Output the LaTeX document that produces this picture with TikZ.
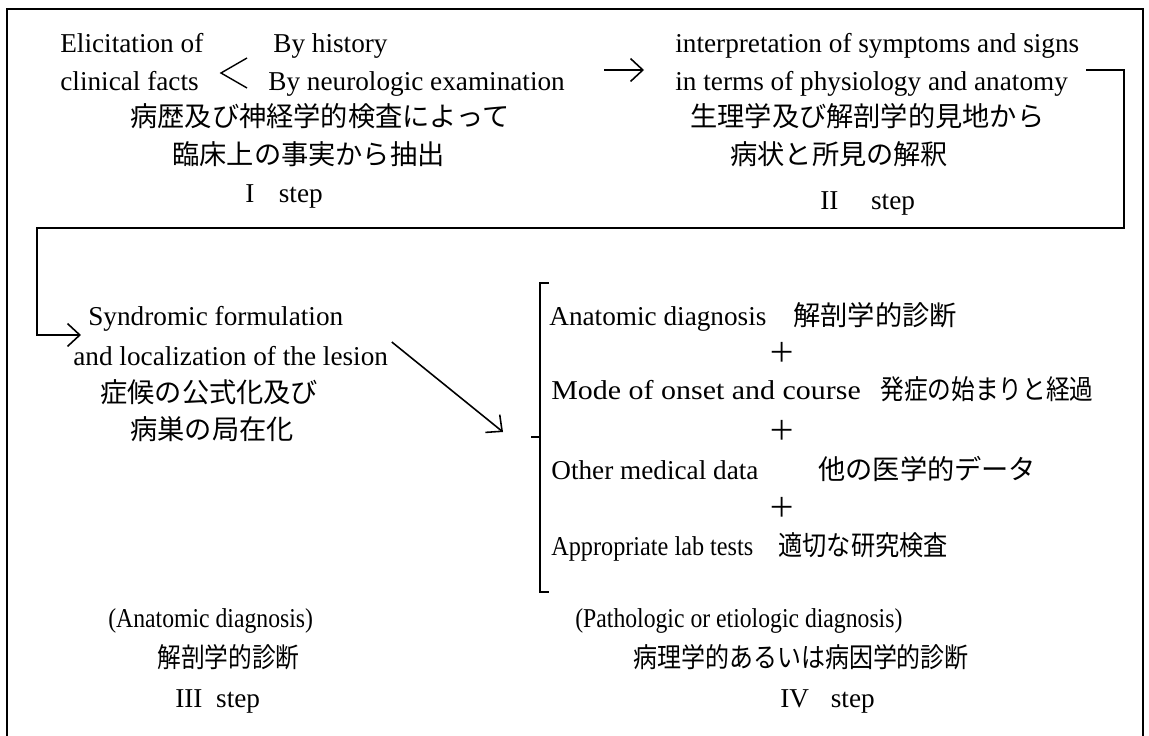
\documentclass[tikz,border=0pt]{standalone}
\usepackage{fontspec}
\setmainfont{Liberation Serif}
\newfontfamily\jpfont{Noto Sans CJK JP}
\usetikzlibrary{arrows.meta}

\tikzset{
	txt/.style = {anchor = west, inner sep = 0pt, text height = 11pt, text depth = 3pt, font = \fontsize{15.5}{18}\selectfont},
	jp/.style = {txt, font = \fontsize{15.5}{18}\selectfont\jpfont},
	barb/.style = {-{Straight Barb[length=7pt,width=13pt]}, line width = 0.9pt},
	frame/.style = {line width = 1pt}
}
\newcommand{\narrow}[2]{\scalebox{#1}[1]{#2}}

\begin{document}
\begin{tikzpicture}[x=0.02cm, y=-0.02cm]
	\useasboundingbox (0,0) rectangle (1149,736);
	\draw[frame] (7,740) -- (7,9) -- (1143,9) -- (1143,740);

	% I step
	\node[txt] (elic1) at (60,45) {Elicitation of};
	\node[txt] (elic2) at (60,83) {clinical facts};
	\node[txt] (hist1) at (273,45) {By history};
	\node[txt] (hist2) at (268,83) {By neurologic examination};
	\node[jp] (elicjp1) at (130,119) {病歴及び神経学的検査によって};
	\node[jp] (elicjp2) at (172,157) {臨床上の事実から抽出};
	\node[txt] (stepI) at (245,195) {I\hspace{0.9em}step};
	\draw[line width = 0.8pt] (247,58) -- (221,73) -- (247,88);

	% II step
	\node[txt] (interp1) at (675,45) {interpretation of symptoms and signs};
	\node[txt] (interp2) at (675,83) {in terms of physiology and anatomy};
	\node[jp] (interpjp1) at (690,119) {生理学及び解剖学的見地から};
	\node[jp] (interpjp2) at (730,157) {病状と所見の解釈};
	\node[txt] (stepII) at (820,202) {II\hspace{1.2em}step};
	\coordinate (go1) at (604,70);
	\coordinate (go2) at (644,70);
	\draw[barb] (go1) -- (go2);

	% III step
	\node[txt] (synd1) at (88,318) {Syndromic formulation};
	\node[txt] (synd2) at (73,358) {and localization of the lesion};
	\node[jp] (syndjp1) at (100,395) {症候の公式化及び};
	\node[jp] (syndjp2) at (130,432) {病巣の局在化};
	\coordinate (turn1) at (1124,70);
	\coordinate (turn2) at (1124,228);
	\coordinate (turn3) at (37,228);
	\draw[barb] (1086,70) -- (turn1) -- (turn2) -- (turn3) |- ([xshift=-4pt]synd1.west |- 0,335);

	\node[txt] (anat) at (108,620) {\narrow{0.87}{(Anatomic diagnosis)}};
	\node[jp] (anatjp) at (157,660) {\narrow{0.87}{解剖学的診断}};
	\node[txt] (stepIII) at (175,700) {III\hspace{0.5em}step};

	% IV step
	\node[txt] (list1) at (549,318) {Anatomic diagnosis};
	\node[jp] (listjp1) at (793,318) {解剖学的診断};
	\node[txt] (list2) at (551,392) {\narrow{1.1}{Mode of onset and course}};
	\node[jp] (listjp2) at (880,392) {\narrow{0.87}{発症の始まりと経過}};
	\node[txt] (list3) at (551,472) {Other medical data};
	\node[jp] (listjp3) at (818,472) {他の医学的データ};
	\node[txt] (list4) at (551,548) {\narrow{0.89}{Appropriate lab tests}};
	\node[jp] (listjp4) at (778,548) {\narrow{0.89}{適切な研究検査}};
	\foreach \s in {355,433,510}
	{
		\node[jp, anchor = center] (plus\s) at (782,\s) {＋};
	}
	\coordinate (brace) at (531,437);
	\draw[line width = 0.8pt] (549,283) -- (540,283) -- (540,592) -- (549,592);
	\draw[line width = 0.8pt] (brace) -- (540,437);
	\draw[barb] ([xshift=2pt]synd2.east |- 0,342) -- (503,432);

	\node[txt] (patho) at (575,620) {\narrow{0.87}{(Pathologic or etiologic diagnosis)}};
	\node[jp] (pathojp) at (633,660) {\narrow{0.88}{病理学的あるいは病因学的診断}};
	\node[txt] (stepIV) at (780,700) {IV\hspace{0.8em}step};
\end{tikzpicture}
\end{document}
